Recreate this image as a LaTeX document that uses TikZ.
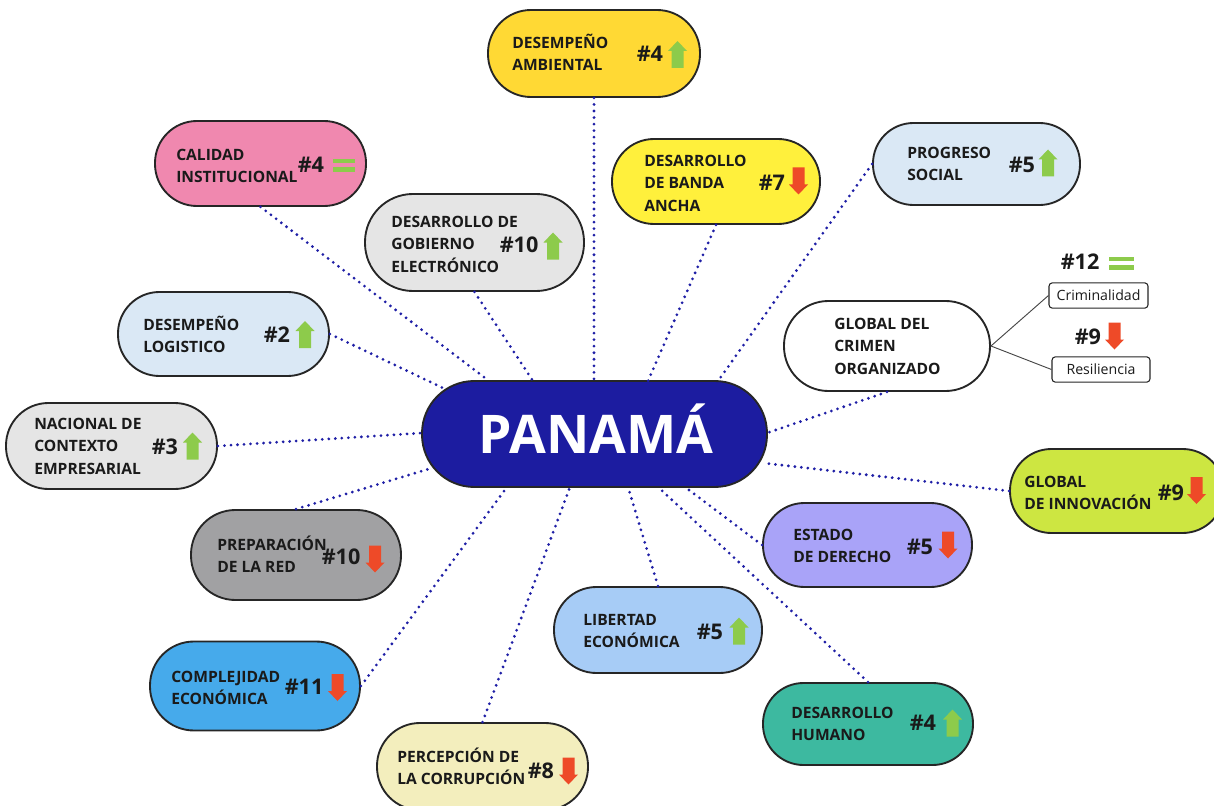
\documentclass[tikz,border=0pt]{standalone}
\usepackage{fontspec}
\setmainfont{Open Sans}
\definecolor{bord}{HTML}{262626}
\definecolor{txt}{HTML}{1A1A1A}
\definecolor{conncol}{HTML}{1F1FA6}
\definecolor{upg}{HTML}{8DCB4B}
\definecolor{dnr}{HTML}{EE4A28}
\definecolor{cAmb}{HTML}{FFD934}
\definecolor{cBan}{HTML}{FFF03C}
\definecolor{cGris}{HTML}{E5E5E5}
\definecolor{cCal}{HTML}{F088AF}
\definecolor{cCel}{HTML}{DAE8F5}
\definecolor{cPan}{HTML}{1C1CA0}
\definecolor{cInn}{HTML}{CDE641}
\definecolor{cPrep}{HTML}{A1A1A3}
\definecolor{cEst}{HTML}{A9A3F8}
\definecolor{cLib}{HTML}{A7CCF6}
\definecolor{cComp}{HTML}{46AAEB}
\definecolor{cHum}{HTML}{3DB9A0}
\definecolor{cPerc}{HTML}{F3EEBD}
\begin{document}
\begin{tikzpicture}[x=0.75pt,y=-0.75pt,
  pill/.style 2 args={draw=bord, line width=1.4pt, rectangle, inner sep=0pt,
     minimum width=#1*0.75pt, minimum height=#2*0.75pt, rounded corners=#2*0.37pt},
  lab/.style={anchor=base west, align=left, inner sep=0pt, text=txt,
     font=\bfseries\fontsize{11.7pt}{16.7pt}\selectfont},
  num/.style={anchor=base west, inner sep=0pt, text=txt,
     font=\bfseries\fontsize{16.2pt}{18pt}\selectfont},
  sub/.style={draw=bord, line width=0.8pt, rectangle, rounded corners=2.5pt, inner sep=0pt,
     minimum width=#1*0.75pt, minimum height=19pt, text=txt, font=\fontsize{10.6pt}{12pt}\selectfont},
  conn/.style={draw=conncol, line width=2.3pt, line cap=round, dash pattern=on 0pt off 4.9pt},
  thin/.style={draw=bord!85, line width=0.7pt},
  upar/.pic={\fill[upg] (0,-13.5) -- (9.5,-3.5) -- (6,-3.5) -- (6,13.5) -- (-6,13.5) -- (-6,-3.5) -- (-9.5,-3.5) -- cycle;},
  dnar/.pic={\fill[dnr] (0,13.5) -- (9.5,3.5) -- (6,3.5) -- (6,-13.5) -- (-6,-13.5) -- (-6,3.5) -- (-9.5,3.5) -- cycle;},
  eqs/.pic={\fill[upg] (-11,-6.5) rectangle (11,-2); \fill[upg] (-11,2) rectangle (11,6.5);}
]
\useasboundingbox (0,0) rectangle (1214,806);
\fill[white] (0,0) rectangle (1214,806);
\clip (0,0) rectangle (1214,806);

% boxes
\node[pill={212}{87}, fill=cAmb]  (amb)  at (594,53.5) {};
\node[pill={208}{85}, fill=cBan]  (ban)  at (716,181.5) {};
\node[pill={219}{97}, fill=cGris] (gob)  at (474.5,242.5) {};
\node[pill={211}{85}, fill=cCal]  (cal)  at (260.5,163.5) {};
\node[pill={207}{82}, fill=cCel]  (prog) at (976.5,164) {};
\node[pill={211}{84}, fill=cCel]  (log)  at (223.5,334) {};
\node[pill={206}{90}, fill=white] (crim) at (887,346) {};
\node[pill={211}{86}, fill=cGris] (nac)  at (111.5,446) {};
\node[pill={345}{106}, fill=cPan] (pan)  at (594.5,434) {};
\node[pill={214}{84}, fill=cInn]  (inn)  at (1117,491) {};
\node[pill={210}{90}, fill=cPrep] (prep) at (296,555) {};
\node[pill={209}{84}, fill=cEst]  (est)  at (867.5,545) {};
\node[pill={208}{86}, fill=cLib]  (lib)  at (658,630) {};
\node[pill={210}{89}, fill=cComp] (comp) at (255,686) {};
\node[pill={210}{82}, fill=cHum]  (hum)  at (868,724) {};
\node[pill={211}{87}, fill=cPerc] (perc) at (482.5,766.5) {};

% sub boxes
\node[sub={99}] (crimi) at (1098.5,295.5) {Criminalidad};
\node[sub={98}] (resil) at (1101,369.5) {Resiliencia};
\draw[thin] (crim.east) -- (crimi.west);
\draw[thin] (crim.east) -- (resil.west);

% connectors
\draw[conn] (log.east)  -- ([shift={(-151.5,-46)}]pan.center);
\draw[conn] (cal.south) -- ([shift={(-105.5,-53)}]pan.center);
\draw[conn] (gob.south) -- ([shift={(-61.5,-53)}]pan.center);
\draw[conn] (amb.south) -- ([shift={(-0.5,-53)}]pan.center);
\draw[conn] (ban.south) -- ([shift={(53.5,-53)}]pan.center);
\draw[conn] (prog.west) -- ([shift={(123.5,-53)}]pan.center);
\draw[conn] (crim.south) -- ([shift={(172.5,-1)}]pan.center);
\draw[conn] (inn.west)  -- ([shift={(168.5,29)}]pan.center);
\draw[conn] (est.west)  -- ([shift={(90.5,53)}]pan.center);
\draw[conn] (hum.north) -- ([shift={(63.5,53)}]pan.center);
\draw[conn] (lib.north) -- ([shift={(33.5,53)}]pan.center);
\draw[conn] (perc.north) -- ([shift={(-24.5,53)}]pan.center);
\draw[conn] (comp.east) -- ([shift={(-87.5,53)}]pan.center);
\draw[conn] (prep.north) -- ([shift={(-162.5,34)}]pan.center);
\draw[conn] (nac.east)  -- ([shift={(-172.5,-1)}]pan.center);

% central title
\node[anchor=base, inner sep=0pt, text=white, font=\bfseries\fontsize{40pt}{42pt}\selectfont] (pant) at (596,453.5) {PANAMÁ};

% labels (anchored at the baseline of their last line)
\node[lab] (tAmb)  at (512,70.9)  {DESEMPEÑO\\AMBIENTAL};
\node[lab] (tBan)  at (644,211.2) {DESARROLLO\\DE BANDA\\ANCHA};
\node[lab] (tGob)  at (391,272.2) {DESARROLLO DE\\GOBIERNO\\ELECTRÓNICO};
\node[lab] (tCal)  at (176,182.9) {CALIDAD\\INSTITUCIONAL};
\node[lab] (tProg) at (907,180.9) {PROGRESO\\SOCIAL};
\node[lab] (tLog)  at (143,352.9) {DESEMPEÑO\\LOGISTICO};
\node[lab] (tCrim) at (834,374.2) {GLOBAL DEL\\CRIMEN\\ORGANIZADO};
\node[lab] (tNac)  at (34,474.2)  {NACIONAL DE\\CONTEXTO\\EMPRESARIAL};
\node[lab] (tInn)  at (1024,509.9) {GLOBAL\\DE INNOVACIÓN};
\node[lab] (tPrep) at (217,572.9) {PREPARACIÓN\\DE LA RED};
\node[lab] (tEst)  at (793,562.9) {ESTADO\\DE DERECHO};
\node[lab] (tLib)  at (583,647.9) {LIBERTAD\\ECONÓMICA};
\node[lab] (tComp) at (171,704.9) {COMPLEJIDAD\\ECONÓMICA};
\node[lab] (tHum)  at (791,740.9) {DESARROLLO\\HUMANO};
\node[lab] (tPerc) at (397,784.9) {PERCEPCIÓN DE\\LA CORRUPCIÓN};

% rankings
\node[num] (nAmb)  at (636.5,61.8)   {\#4};
\node[num] (nBan)  at (758.5,190.8)  {\#7};
\node[num] (nGob)  at (499.5,252.8)  {\#10};
\node[num] (nCal)  at (297.5,172.8)  {\#4};
\node[num] (nProg) at (1008.5,172.8) {\#5};
\node[num] (nLog)  at (263.5,342.8)  {\#2};
\node[num] (nNac)  at (151.5,454.8)  {\#3};
\node[num] (nPrep) at (321.5,564.8)  {\#10};
\node[num] (nComp) at (284.5,694.8)  {\#11};
\node[num] (nPerc) at (527.5,778.8)  {\#8};
\node[num] (nLib)  at (696.5,639.8)  {\#5};
\node[num] (nHum)  at (909.5,730.8)  {\#4};
\node[num] (nEst)  at (906.5,554.8)  {\#5};
\node[num] (nInn)  at (1157.5,500.8) {\#9};
\node[num] (nCri)  at (1060.5,269.8) {\#12};
\node[num] (nRes)  at (1074.5,344.8) {\#9};

% trend marks
\pic at (677.5,54.5) {upar};
\pic at (798.5,181) {dnar};
\pic at (553,246) {upar};
\pic at (344,165.5) {eqs};
\pic at (1048,163) {upar};
\pic at (305,334.5) {upar};
\pic at (192.5,446) {upar};
\pic at (375,559) {dnar};
\pic at (337.5,687.5) {dnar};
\pic at (568.5,771) {dnar};
\pic at (739,631) {upar};
\pic at (952.5,723) {upar};
\pic at (948,545) {dnar};
\pic at (1196.5,490.5) {dnar};
\pic[xscale=1.12] at (1121.5,263) {eqs};
\pic at (1114.5,336) {dnar};
\end{tikzpicture}
\end{document}
